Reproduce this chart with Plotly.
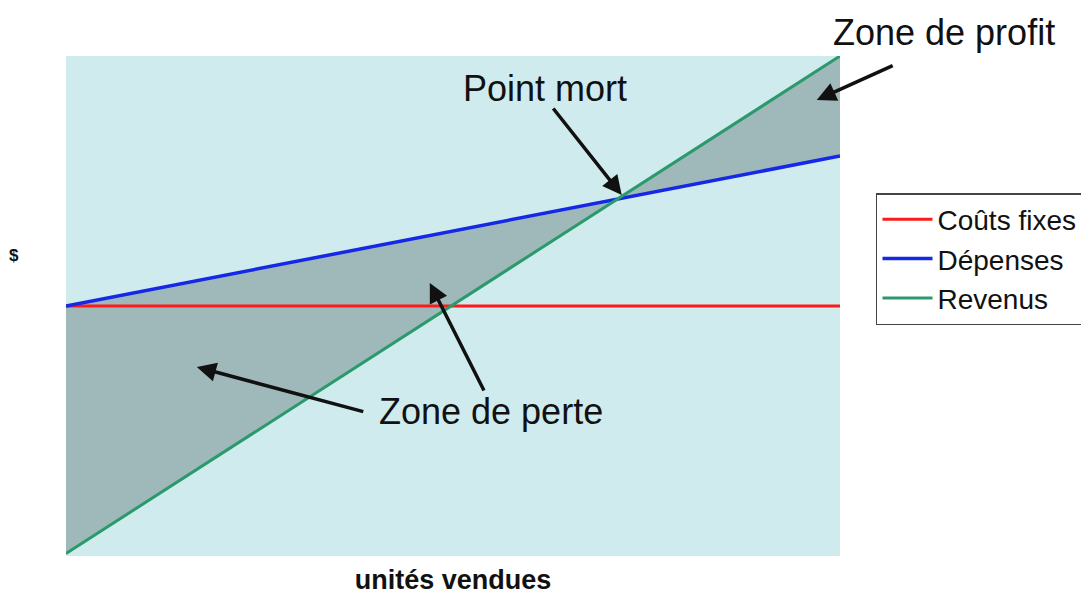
import plotly.graph_objects as go

# unités vendues (échelle arbitraire) et montants en $
unites = [0, 10]
couts_fixes = [50, 50]
depenses = [50, 80]
revenus = [0.5, 100]

FOND = "#cfebee"
ZONE = "#9fb9bb"
POLICE = "Liberation Sans, Arial, sans-serif"

fig = go.Figure()

# Zone entre dépenses et revenus (perte puis profit)
fig.add_trace(go.Scatter(x=unites, y=depenses, mode="lines",
                         line=dict(width=0), showlegend=False, hoverinfo="skip"))
fig.add_trace(go.Scatter(x=unites, y=revenus, mode="lines", fill="tonexty",
                         fillcolor=ZONE, line=dict(width=0),
                         showlegend=False, hoverinfo="skip"))

# Les trois droites (un groupe chacune pour espacer la légende)
fig.add_trace(go.Scatter(x=unites, y=couts_fixes, mode="lines", name="Coûts fixes",
                         legendgroup="a", line=dict(color="#ff1a1a", width=3)))
fig.add_trace(go.Scatter(x=unites, y=depenses, mode="lines", name="Dépenses",
                         legendgroup="b", line=dict(color="#1428e6", width=3.5)))
fig.add_trace(go.Scatter(x=unites, y=revenus, mode="lines", name="Revenus",
                         legendgroup="c", line=dict(color="#2a9a6c", width=3)))

# Textes dans le graphique (coordonnées des données)
textes = [
    ("Point mort", 6.19, 93.6),
    ("Zone de perte", 5.49, 29.0),
]
for t, x, y in textes:
    fig.add_annotation(x=x, y=y, text=t, showarrow=False,
                       font=dict(family=POLICE, size=36, color="#111111"))

# hors du graphique -> coordonnées papier
fig.add_annotation(x=1.134, y=1.046, xref="paper", yref="paper",
                   xanchor="center", yanchor="middle",
                   text="Zone de profit", showarrow=False,
                   font=dict(family=POLICE, size=36, color="#111111"))
fig.add_annotation(x=-0.067, y=0.602, xref="paper", yref="paper",
                   xanchor="center", yanchor="middle",
                   text="<b>$</b>", showarrow=False,
                   font=dict(family=POLICE, size=17, color="#111111"))

# Flèches (queue -> pointe)
fleches = [
    (6.28, 89.8, 7.18, 72.2),
    (3.86, 28.8, 1.69, 37.8),
    (5.41, 32.8, 4.70, 54.6),
    (10.70, 98.2, 9.70, 91.2),
]
for ax, ay, x, y in fleches:
    fig.add_annotation(x=x, y=y, ax=ax, ay=ay, xref="x", yref="y",
                       axref="x", ayref="y", text="", showarrow=True,
                       arrowhead=2, arrowsize=1.1, arrowwidth=3.5,
                       arrowcolor="#111111")

fig.update_layout(
    width=1081, height=587,
    paper_bgcolor="white",
    plot_bgcolor=FOND,
    margin=dict(l=58, r=249, t=48, b=39, autoexpand=False),
    font=dict(family=POLICE, color="#111111"),
    showlegend=True,
    legend=dict(
        x=1.0465, y=0.726, xanchor="left", yanchor="top",
        bgcolor="white", bordercolor="#444444", borderwidth=1.5,
        font=dict(family=POLICE, size=28, color="#111111"),
        itemwidth=50, traceorder="normal", tracegroupgap=7,
    ),
)
fig.update_xaxes(range=[0, 10], showgrid=False, zeroline=False,
                 showticklabels=False, ticks="", automargin=False,
                 title=dict(text="<b>unités vendues</b>", standoff=22,
                            font=dict(family=POLICE, size=27, color="#111111")))
fig.update_yaxes(range=[0, 100], showgrid=False, zeroline=False,
                 showticklabels=False, ticks="", automargin=False)

fig.write_html("out.html")
